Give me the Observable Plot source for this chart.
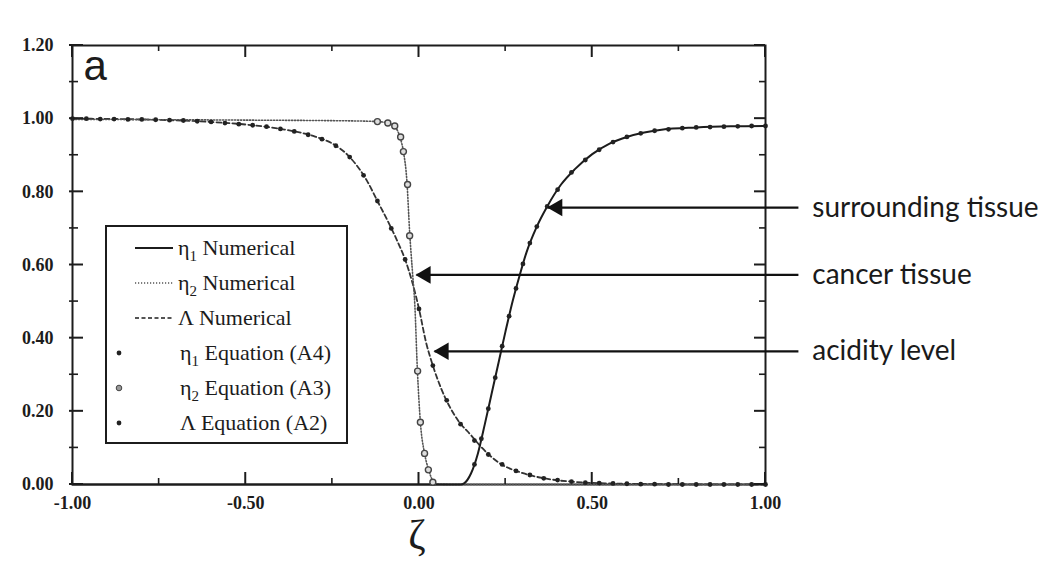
<!DOCTYPE html>
<html><head><meta charset="utf-8">
<script src="https://cdn.jsdelivr.net/npm/d3@7"></script>
<script src="https://cdn.jsdelivr.net/npm/@observablehq/plot@0.6"></script>
<style>
html,body{margin:0;padding:0;background:#fff;}
#wrap{position:relative;width:1052px;height:561px;}
#legend{position:absolute;left:105px;top:225px;}
</style></head><body><div id="wrap"></div>
<script>
// ---- data ----
const xMajorTicks = [-1, -0.5, 0, 0.5, 1];
const xMinorTicks = [-0.75, -0.25, 0.25, 0.75];
const yMajorTicks = [0, 0.2, 0.4, 0.6, 0.8, 1.0, 1.2];
const yMinorTicks = [0.1, 0.3, 0.5, 0.7, 0.9, 1.1];

// eta1 (surrounding tissue) numerical
const eta1NumX = [-1, 0.12, 0.13, 0.15, 0.17, 0.19, 0.21, 0.23, 0.25, 0.27, 0.29, 0.31, 0.34, 0.37, 0.41, 0.45, 0.5, 0.55, 0.6, 0.65, 0.7, 0.8, 0.9, 1];
const eta1NumY = [0, 0, 0.003, 0.03, 0.085, 0.165, 0.25, 0.335, 0.42, 0.5, 0.57, 0.634, 0.705, 0.76, 0.82, 0.862, 0.903, 0.932, 0.95, 0.962, 0.97, 0.976, 0.979, 0.98];
// eta1 equation (A4) points
const eta1EqX = [0.16, 0.18, 0.20, 0.22, 0.24, 0.26, 0.28, 0.30, 0.32, 0.34, 0.37, 0.40, 0.44, 0.48, 0.52, 0.56, 0.60, 0.64, 0.68, 0.72, 0.76, 0.80, 0.84, 0.88, 0.92, 0.96, 1.00];
const eta1EqY = [0.055, 0.125, 0.207, 0.292, 0.378, 0.46, 0.536, 0.603, 0.66, 0.705, 0.76, 0.806, 0.853, 0.887, 0.915, 0.936, 0.95, 0.96, 0.967, 0.971, 0.974, 0.976, 0.977, 0.978, 0.979, 0.98, 0.98];

// eta2 (cancer tissue) numerical
const eta2NumX = [-1, -0.5, -0.2, -0.12, -0.09, -0.07, -0.055, -0.045, -0.035, -0.027, -0.018, -0.012, -0.005, 0.004, 0.016, 0.028, 0.04, 0.055, 0.1, 1];
const eta2NumY = [0.998, 0.996, 0.994, 0.992, 0.988, 0.978, 0.95, 0.91, 0.83, 0.69, 0.57, 0.49, 0.32, 0.17, 0.085, 0.04, 0.01, 0.001, 0, 0];
// eta2 equation (A3) points
const eta2EqX = [-0.12, -0.09, -0.07, -0.053, -0.045, -0.033, -0.027, -0.004, 0.004, 0.016, 0.027, 0.04];
const eta2EqY = [0.992, 0.988, 0.98, 0.95, 0.91, 0.82, 0.68, 0.31, 0.17, 0.085, 0.04, 0.006];

// Lambda (acidity) numerical
const lamNumX = [-1, -0.8, -0.6, -0.5, -0.4, -0.3, -0.25, -0.2, -0.15, -0.12, -0.09, -0.06, -0.04, -0.02, 0, 0.02, 0.04, 0.065, 0.09, 0.115, 0.15, 0.18, 0.23, 0.3, 0.38, 0.45, 0.55, 0.7, 1];
const lamNumY = [1.0, 0.998, 0.991, 0.984, 0.972, 0.951, 0.932, 0.895, 0.83, 0.775, 0.72, 0.66, 0.615, 0.555, 0.48, 0.39, 0.325, 0.26, 0.21, 0.172, 0.135, 0.102, 0.06, 0.031, 0.014, 0.007, 0.003, 0.001, 0];
// Lambda equation (A2) points
const lamEqX = [-1, -0.96, -0.92, -0.88, -0.84, -0.80, -0.76, -0.72, -0.68, -0.64, -0.60, -0.56, -0.52, -0.48, -0.44, -0.40, -0.36, -0.32, -0.28, -0.24, -0.20, -0.16, -0.12, -0.08, -0.04, 0.00, 0.04, 0.08, 0.12, 0.16, 0.20, 0.24, 0.28, 0.32, 0.36, 0.40, 0.44, 0.48, 0.52, 0.56, 0.60, 0.64, 0.68, 0.72, 0.76, 0.80, 0.84, 0.88, 0.92, 0.96, 1.00];
const lamEqY = [1.0, 1.0, 0.999, 0.999, 0.998, 0.998, 0.997, 0.996, 0.995, 0.993, 0.991, 0.988, 0.985, 0.982, 0.978, 0.972, 0.965, 0.956, 0.944, 0.926, 0.895, 0.845, 0.775, 0.70, 0.615, 0.48, 0.325, 0.23, 0.165, 0.12, 0.082, 0.055, 0.037, 0.026, 0.017, 0.012, 0.008, 0.005, 0.004, 0.003, 0.002, 0.001, 0.001, 0, 0, 0, 0, 0, 0, 0, 0];

// annotations
const annoLabels = ["surrounding tissue", "cancer tissue", "acidity level"];
const annoY = [0.757, 0.573, 0.364];
const annoTipX = [0.373, -0.007, 0.045];
const annoTailX = 1.095;
const annoTextX = 1.135;

// legend entries
const legendNames = [["η","1"," Numerical"],["η","2"," Numerical"],["Λ",""," Numerical"],["η","1"," Equation (A4)"],["η","2"," Equation (A3)"],["Λ",""," Equation (A2)"]];

// ---- build ----
const pts = (xs, ys) => xs.map((x, i) => ({x, y: ys[i]}));
const eta1Num = pts(eta1NumX, eta1NumY), eta1Eq = pts(eta1EqX, eta1EqY);
const eta2Num = pts(eta2NumX, eta2NumY), eta2Eq = pts(eta2EqX, eta2EqY);
const lamNum = pts(lamNumX, lamNumY), lamEq = pts(lamEqX, lamEqY);
const annos = annoLabels.map((label, i) => ({label, y: annoY[i], tip: annoTipX[i], tail: annoTailX, tx: annoTextX}));

const ink = "#1c1c1c";
const tickFont = {fontSize: 18, fontWeight: "bold", fontFamily: "Liberation Serif, serif", fill: ink};

const W = 1052, H = 561, mL = 72, mR = 287, mT = 45, mB = 77;
const xDom = [-1, 1], yDom = [0, 1.2];

const chart = Plot.plot({
  width: W, height: H,
  marginLeft: mL, marginRight: mR, marginTop: mT, marginBottom: mB,
  x: {domain: xDom, label: null},
  y: {domain: yDom, label: null},
  style: {background: "white", color: ink, fontFamily: "Liberation Serif, serif"},
  marks: [
    Plot.axisX(xMajorTicks, {anchor: "bottom", tickSize: 0, tickPadding: 12, tickFormat: d => d.toFixed(2), label: null, ...tickFont}),
    Plot.axisY(yMajorTicks, {anchor: "left", tickSize: 0, tickPadding: 19, tickFormat: d => d.toFixed(2), label: null, ...tickFont}),
    Plot.frame({stroke: ink, strokeWidth: 2}),
    // numerical curves
    Plot.line(lamNum, {x: "x", y: "y", curve: "monotone-x", stroke: "#333", strokeWidth: 1.8, strokeDasharray: "5,3"}),
    Plot.line(eta2Num, {x: "x", y: "y", curve: "monotone-x", stroke: "#555", strokeWidth: 1.6, strokeDasharray: "1.2,1.8"}),
    Plot.line(eta1Num, {x: "x", y: "y", curve: "monotone-x", stroke: ink, strokeWidth: 2}),
    // equation points
    Plot.dot(lamEq, {x: "x", y: "y", r: 2.4, fill: "#222"}),
    Plot.dot(eta1Eq, {x: "x", y: "y", r: 2.4, fill: "#222"}),
    Plot.dot(eta2Eq, {x: "x", y: "y", r: 3, stroke: "#444", strokeWidth: 1.4, fill: "#ddd"}),
    // panel letter and axis label
    Plot.text(["a"], {frameAnchor: "top-left", dx: 11, dy: 5, lineAnchor: "top", textAnchor: "start", fontSize: 42, fontFamily: "Liberation Sans, Arial, sans-serif", fill: ink}),
    Plot.text(["ζ"], {frameAnchor: "bottom", dx: -2, dy: 64, fontSize: 42, fontFamily: "Liberation Serif, serif", fill: ink}),
    // annotations
    Plot.link(annos, {x1: "tail", x2: "tip", y1: "y", y2: "y", stroke: "#111", strokeWidth: 2.2}),
    Plot.dot(annos, {x: "tip", y: "y", symbol: "triangle", r: 6.5, rotate: -90, dx: 9, fill: "#111", stroke: "none"}),
    Plot.text(annos, {x: "tx", y: "y", text: "label", textAnchor: "start", fontSize: 28, fontFamily: "Lato, sans-serif", fill: "#1a1a1a"})
  ]
});

const wrap = document.getElementById("wrap");
wrap.appendChild(chart);

// inward tick marks on all four sides, positioned through the chart's own scales
const sx = chart.scale("x"), sy = chart.scale("y");
const gT = d3.select(chart).append("g").attr("stroke", ink);
const X0 = sx.apply(xDom[0]), X1 = sx.apply(xDom[1]), Y0 = sy.apply(yDom[0]), Y1 = sy.apply(yDom[1]);
const seg = (x1, y1, x2, y2, sw) => gT.append("line").attr("x1", x1).attr("y1", y1).attr("x2", x2).attr("y2", y2).attr("stroke-width", sw);
const xTicks = (vals, len, sw) => vals.forEach(v => { const px = sx.apply(v); seg(px, Y0, px, Y0 - len, sw); seg(px, Y1, px, Y1 + len, sw); });
const yTicks = (vals, len, sw) => vals.forEach(v => { const py = sy.apply(v); seg(X0 - 3, py, X0 + len, py, sw); seg(X1, py, X1 - len, py, sw); });
xTicks(xMajorTicks, 12, 2);
xTicks(xMinorTicks, 6, 1.6);
yTicks(yMajorTicks, 11, 2);
yTicks(yMinorTicks, 6, 1.6);

// legend box (drawn over the plot area)
const lw = 243, lh = 219;
const rowsY = [23, 58, 93, 128, 163, 198];
const dashes = [null, "1.2,1.8", "4,2.5"];
const leg = d3.select(wrap).append("svg").attr("id", "legend").attr("width", lw).attr("height", lh)
  .style("font-family", "Liberation Serif, serif").style("font-size", "22px");
leg.append("rect").attr("x", 1).attr("y", 1).attr("width", lw - 2).attr("height", lh - 2)
  .attr("fill", "white").attr("stroke", ink).attr("stroke-width", 2);
legendNames.forEach((parts, i) => {
  const cy = rowsY[i];
  if (i < 3) {
    leg.append("line").attr("x1", 30).attr("x2", 68).attr("y1", cy).attr("y2", cy)
      .attr("stroke", i === 1 ? "#555" : ink).attr("stroke-width", i === 0 ? 1.8 : 1.5)
      .attr("stroke-dasharray", dashes[i]);
  } else {
    leg.append("circle").attr("cx", 14).attr("cy", cy).attr("r", i === 4 ? 2.8 : 2.4)
      .attr("fill", i === 4 ? "#999" : "#222").attr("stroke", i === 4 ? "#444" : "none");
  }
  const t = leg.append("text").attr("x", i < 3 ? 73 : 75).attr("y", cy + 7).attr("fill", ink);
  t.append("tspan").text(parts[0]);
  if (parts[1]) t.append("tspan").attr("dy", 6).attr("font-size", 15).text(parts[1]);
  t.append("tspan").attr("dy", parts[1] ? -6 : 0).text(parts[2]);
});
</script></body></html>
